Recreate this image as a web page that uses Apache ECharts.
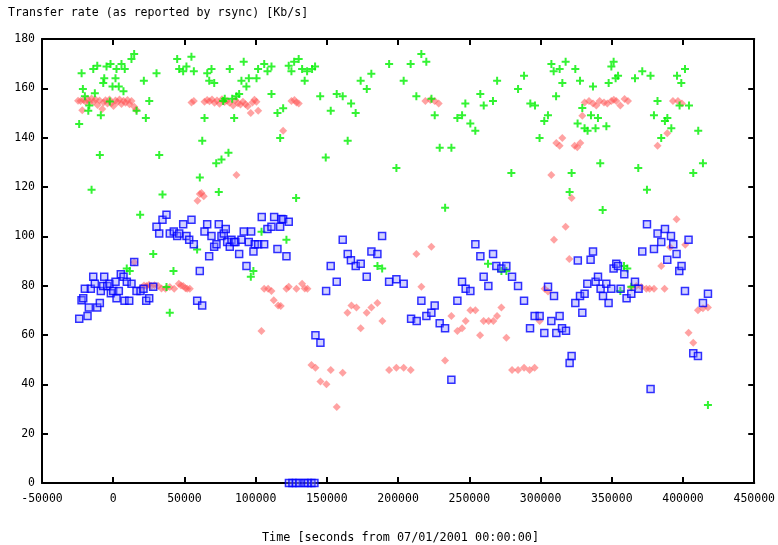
<!DOCTYPE html>
<html><head><meta charset="utf-8">
<script src="https://cdn.jsdelivr.net/npm/echarts@6/dist/echarts.min.js"></script>
<style>html,body{margin:0;padding:0;background:#fff}#c{width:778px;height:545px}</style>
</head><body><div id="c"></div>
<script>
var xTicks = [-50000,0,50000,100000,150000,200000,250000,300000,350000,400000,450000];
var yTicks = [0,20,40,60,80,100,120,140,160,180];

var redPoints = [
[-24700,155.0],[-22950,154.9],[-21750,151.1],[-20840,155.3],[-19440,154.6],[-18040,155.7],[-16640,154.3],[-15230,155.9],
[-13820,154.6],[-12420,155.5],[-11020,153.2],[-9610,155.1],[-7720,151.6],[-6810,154.3],[-5400,155.2],[-4000,153.9],
[-2600,155.5],[-1190,154.0],[210,152.8],[1610,155.1],[3020,154.5],[4420,155.5],[5820,153.6],[7230,155.0],[8630,154.2],
[10030,155.3],[11440,153.5],[12840,154.9],[14740,152.5],[16140,151.3],[14740,89.5],
[19860,79.2],[21610,80.1],[23370,79.9],[25120,80.4],[26880,79.9],[28980,80.2],[31580,79.9],[33890,78.9],[36700,78.8],
[39720,79.5],[42800,78.8],[46030,80.8],[47580,80.1],[49120,79.9],[50730,79.0],[51930,78.8],[53750,78.8],
[54940,154.3],[56560,154.9],[59150,114.4],[60770,117.2],[61960,117.6],[63570,116.2],
[64070,154.6],[65960,155.3],[67570,154.8],[69330,155.5],[71080,154.2],[72840,155.1],[74590,153.8],[76350,155.6],
[78100,154.5],[79860,155.0],[81610,154.2],[84200,153.0],[85820,155.2],[86520,124.9],[87570,154.0],[89330,153.4],
[91080,154.6],[92830,153.5],[94450,152.7],[96550,150.0],[97750,154.3],[99150,155.4],[100550,154.6],[101750,150.9],
[104060,61.6],[105960,78.8],[108760,78.8],[111080,77.8],[112690,74.1],[115780,72.0],[117610,71.8],[119290,142.8],
[121610,78.8],[123220,79.6],[125110,154.9],[127220,155.3],[128620,154.3],[128620,78.8],[130240,153.9],[132620,80.8],
[134450,78.9],[136340,78.8],[139150,47.8],[141960,46.7],[145460,41.1],[149670,40.0],[152690,45.8],[156900,30.8],
[161110,44.7],[164410,69.0],[167210,72.0],[170720,71.1],[173740,62.7],[177950,69.0],[181250,71.1],[185460,73.0],
[188970,65.7],[193670,45.8],[198790,46.7],[203910,46.7],[208830,45.8],[212830,92.8],[216340,79.6],[219140,154.9],
[222650,155.3],[223350,95.8],[225670,154.9],[228470,153.9],[232960,49.7],[237380,67.7],[241600,61.6],[244890,62.7],
[247420,65.7],[250720,70.0],[254230,70.0],[257530,59.9],[260050,65.7],[263560,65.7],[266860,65.7],[269450,67.7],
[272470,71.1],[275980,58.9],[279980,45.8],[284190,45.8],[288400,46.7],[292330,45.8],[295840,46.7],[299350,65.7],
[302850,78.8],[305240,77.6],[307560,124.9],[309450,98.6],[311060,137.8],[313380,136.7],[315270,139.9],[317590,103.9],
[320190,90.8],[321800,115.5],[323910,136.7],[325800,136.1],[327910,137.8],[329310,148.9],
[330920,154.3],[334010,154.9],[336820,153.9],[339130,153.0],[341450,154.9],[344530,154.3],[346850,153.9],[349660,154.9],
[351420,155.4],[353170,154.9],[355980,153.0],[358990,155.7],[361380,154.9],
[363690,79.2],[367200,79.9],[370710,79.5],[374220,78.8],[376530,78.8],[379620,78.8],[382150,136.7],[384740,88.0],
[387060,78.8],[388960,141.8],[391060,95.6],[392950,154.9],[395480,106.9],[396460,154.9],[399270,153.9],[401580,96.6],
[403900,60.9],[407200,56.9],[410490,70.0],[414000,70.8],[417510,71.1]
];

var greenPoints = [
[-23900,145.5],[-22200,166.1],[-21300,159.7],[-19900,156.8],[-17500,150.9],[-16800,153.0],[-15200,118.9],[-14000,167.8],
[-12900,158.0],[-11200,169.2],[-9400,133.0],[-8700,149.1],[-7000,162.2],[-6300,164.1],[-4700,168.9],[-2400,154.7],
[-1900,169.9],[-500,160.7],[1600,164.1],[2300,167.8],[3900,160.7],[5800,169.9],[7200,158.8],[8100,167.8],[9500,87.0],
[11600,85.9],[12800,171.9],[14700,173.9],[16400,150.9],[18900,108.8],[21500,163.1],[22900,148.0],[25300,154.9],
[28100,92.8],[30400,166.1],[32300,133.0],[34600,117.0],[37400,79.5],[39700,69.0],[42300,85.9],[44900,171.9],
[46300,167.8],[49100,166.9],[51400,168.9],[54900,172.8],[56600,166.9],[58900,94.7],[60800,123.9],[62500,138.8],
[64100,148.0],[66000,166.1],[67400,163.1],[69000,167.8],[70900,162.2],[72300,129.6],[74100,118.0],[76000,131.1],
[77200,154.9],[78300,155.8],[80900,133.9],[81800,167.8],[83500,155.8],[84900,148.0],[86500,156.8],[88400,157.7],
[90000,163.1],[91600,170.8],[93500,160.7],[95200,164.1],[96600,83.6],[98400,85.9],[100600,164.1],[101700,167.8],
[104100,101.9],[106000,169.9],[108300,166.9],[111100,168.9],[111100,157.7],[115300,150.0],[117200,139.9],[119300,151.9],
[121600,98.6],[123200,169.2],[125100,166.9],[127000,170.8],[128400,115.5],[130200,171.9],[132600,167.8],[134400,163.1],
[136100,166.9],[139600,167.8],[141700,168.9],[145300,156.8],[149200,132.0],[152700,150.9],[156900,157.7],[161100,156.8],
[164600,138.8],[167000,153.9],[170200,150.0],[173700,163.1],[178000,159.7],[181200,165.9],[185500,88.0],[188800,87.0],
[193700,169.9],[198800,127.7],[203900,163.1],[208800,169.9],[212800,156.8],[216300,173.9],[219800,170.8],[223400,155.8],
[225700,149.1],[229200,135.9],[233000,111.6],[237400,135.9],[241600,148.0],[244900,149.1],[247200,153.9],[250700,145.7],
[254200,142.8],[257700,157.7],[260100,153.0],[263100,88.9],[266600,154.9],[269500,163.1],[272500,85.9],[276000,85.9],
[279500,125.7],[284200,159.7],[288400,165.1],[292800,153.9],[296100,153.0],[299300,139.9],[302600,146.8],[305200,149.1],
[307600,169.9],[309200,166.9],[310900,156.8],[313400,167.8],[315300,162.2],[317600,170.8],[320400,118.0],[321800,125.7],
[324400,167.8],[326000,145.7],[327700,163.1],[329300,152.0],[330900,143.8],[333000,142.8],[335400,149.1],[336800,160.7],
[338600,143.8],[340300,148.0],[341900,129.6],[343600,110.7],[346200,144.6],[347800,162.2],[349700,168.9],[351300,170.8],
[352700,164.1],[354400,165.1],[356000,77.8],[358600,88.0],[360900,87.0],[363700,79.6],[366300,164.1],[368600,127.7],
[371400,166.9],[374700,118.9],[377200,165.1],[379600,149.1],[382100,154.9],[384700,139.9],[387300,146.8],[389000,148.0],
[391800,143.8],[395800,165.1],[397600,153.0],[398800,162.2],[401400,167.8],[404200,153.0],[407200,125.7],[410700,142.8],
[414000,129.6],[417500,31.6]
];

var bluePoints = [
[-23860,66.6],[-22240,74.1],[-21050,74.9],[-19930,78.8],[-18030,67.7],[-17120,71.1],[-15720,78.8],[-14030,83.6],
[-12910,80.8],[-11230,71.1],[-9400,73.0],[-8700,77.8],[-7020,79.9],[-6320,83.6],[-4210,79.9],[-2600,80.8],[-1680,76.9],
[0,77.8],[1610,81.6],[2320,74.9],[3930,77.8],[5330,84.6],[7230,83.6],[7930,73.9],[9540,81.6],[11230,73.9],[12840,80.8],
[14740,89.6],[16350,77.8],[19160,77.8],[21260,78.8],[23160,73.9],[25260,74.9],[28070,79.6],[30380,103.9],[32280,101.1],
[34590,106.7],[37400,108.8],[39720,101.1],[42520,102.0],[44910,100.1],[46310,101.1],[49120,104.9],[51430,100.1],
[53330,98.6],[54940,106.7],[56560,96.8],[58940,73.9],[60770,85.9],[62450,72.0],[64070,102.0],[65960,104.9],[67360,91.9],
[68980,100.1],[70870,95.8],[72490,96.8],[74100,104.9],[75990,100.1],[77610,101.1],[79010,103.0],[79990,97.7],[81820,95.8],
[83010,98.6],[84910,97.7],[85820,97.7],[88410,92.8],[90030,98.6],[91640,102.0],[93540,88.0],[95150,97.7],[96830,102.0],
[98450,93.9],[99360,96.8],[101750,96.8],[104270,107.8],[105960,96.8],[108270,103.0],[111080,103.9],[112970,107.8],
[115290,94.9],[117180,103.9],[118100,107.0],[119290,106.9],[121610,91.9],[123220,105.9],
[123360,0],[125810,0],[128270,0],[130730,0],[134240,0],[136690,0],[139150,0],[141250,0],
[141960,59.9],[145460,56.9],[149460,77.8],[152690,88.0],[156900,81.6],[161110,98.6],[164620,92.8],[166860,90.3],
[170230,88.0],[173740,88.9],[177950,83.6],[181250,93.9],[185460,92.8],[188760,100.1],[193670,81.6],[198790,82.6],
[203910,80.8],[209110,66.6],[213040,65.7],[216330,73.9],[219840,67.7],[223350,69.0],[225670,72.0],[229180,64.8],
[232960,62.7],[237380,41.9],[241600,73.9],[244890,81.6],[247420,78.8],[250720,77.8],[254230,96.8],[257740,91.9],
[260050,83.6],[263350,79.9],[266650,92.8],[268960,88.0],[272470,87.0],[275980,88.0],[279980,83.6],[284190,79.9],
[288400,73.9],[292610,62.7],[295840,67.7],[299350,67.7],[302640,60.8],[305240,79.6],[307560,65.7],[309450,75.8],
[311060,60.8],[313380,67.7],[315060,62.7],[317870,61.7],[320400,48.6],[321800,51.5],[324400,73.0],[326150,90.2],
[327690,75.8],[329310,69.0],[330920,76.7],[332820,80.8],[335130,90.5],[336820,93.9],[338640,81.6],[340320,83.6],
[342150,78.8],[343830,75.8],[346150,80.8],[347760,73.0],[349660,78.8],[351270,87.0],[353170,88.9],[354360,88.0],
[356190,78.8],[358780,84.6],[360390,74.9],[363690,76.7],[366290,81.6],[368810,78.8],[371410,93.9],[374710,104.9],
[377240,38.1],[379620,94.9],[382150,101.1],[384740,97.7],[387340,103.0],[388960,90.5],[391550,100.1],[393170,96.8],
[395480,92.8],[397380,85.9],[398990,88.0],[401380,77.8],[403900,98.6],[407200,52.6],[410490,51.5],[414000,73.0],
[417510,76.7]
];

var FONT = 'DejaVu Sans Mono';
var chart = echarts.init(document.getElementById('c'), null, {renderer: 'canvas'});
var axisBase = function () {
  return {
    axisLine: {show: true, onZero: false, lineStyle: {color: '#000', width: 2}},
    axisTick: {show: true, inside: true, length: 6, lineStyle: {color: '#000', width: 2}},
    splitLine: {show: false}
  };
};
var xMain = Object.assign(axisBase(), {
  type: 'value', min: xTicks[0], max: xTicks[xTicks.length - 1], interval: 50000, position: 'bottom',
  axisLabel: {color: '#000', fontFamily: FONT, fontSize: 11.5, margin: 10, formatter: function (v) { return String(v); }}
});
var xTop = Object.assign(axisBase(), {
  type: 'value', min: xTicks[0], max: xTicks[xTicks.length - 1], interval: 50000, position: 'top',
  axisLabel: {show: false}
});
var yMain = Object.assign(axisBase(), {
  type: 'value', min: yTicks[0], max: yTicks[yTicks.length - 1], interval: 20, position: 'left',
  axisLabel: {color: '#000', fontFamily: FONT, fontSize: 11.5, margin: 7, formatter: function (v) { return String(v); }}
});
var yRight = Object.assign(axisBase(), {
  type: 'value', min: yTicks[0], max: yTicks[yTicks.length - 1], interval: 20, position: 'right',
  axisLabel: {show: false}
});

var plusPath = 'path://M3,0H5V3H8V5H5V8H3V5H0V3H3Z';

chart.setOption({
  animation: false,
  backgroundColor: '#fff',
  title: [
    {text: 'Transfer rate (as reported by rsync) [Kb/s]', left: 8, top: 7, padding: 0,
     textStyle: {fontFamily: FONT, fontSize: 11.6, fontWeight: 'normal', color: '#000'}},
    {text: 'Time [seconds from 07/01/2001 00:00:00]', left: 262, top: 532, padding: 0,
     textStyle: {fontFamily: FONT, fontSize: 11.8, fontWeight: 'normal', color: '#000'}}
  ],
  grid: {left: 42, right: 23, top: 39, bottom: 62, containLabel: false},
  xAxis: [xMain, xTop],
  yAxis: [yMain, yRight],
  series: [
    {type: 'scatter', name: 'red', data: redPoints, symbol: 'diamond', symbolSize: 8,
     itemStyle: {color: 'rgba(255,90,90,0.7)'}},
    {type: 'scatter', name: 'green', data: greenPoints, symbol: plusPath, symbolSize: 8,
     itemStyle: {color: '#00f000'}},
    {type: 'scatter', name: 'blue', data: bluePoints, symbol: 'rect', symbolSize: 7,
     itemStyle: {color: 'rgba(130,130,255,0.45)', borderColor: '#0000ff', borderWidth: 1.5}}
  ]
});
</script>
</body></html>
